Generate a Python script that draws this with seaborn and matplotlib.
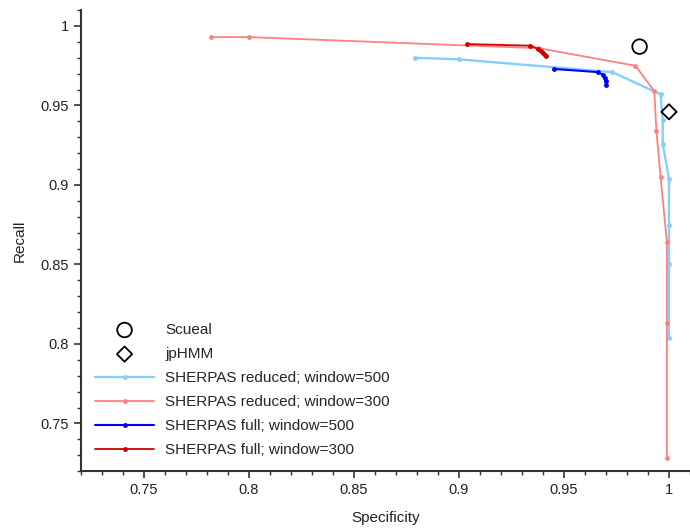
import numpy as np
import matplotlib
matplotlib.use("Agg")
import matplotlib.pyplot as plt
import seaborn as sns
from matplotlib.ticker import MultipleLocator

# data
scueal_spec = [0.986]
scueal_rec = [0.987]
jphmm_spec = [1.000]
jphmm_rec = [0.946]

red500_spec = [0.879, 0.900, 0.973, 0.996, 0.997, 0.997, 1.000, 1.000, 1.000, 1.000]
red500_rec = [0.980, 0.979, 0.971, 0.957, 0.941, 0.926, 0.904, 0.875, 0.850, 0.804]

red300_spec = [0.782, 0.800, 0.938, 0.984, 0.993, 0.994, 0.996, 0.999, 0.999, 0.999]
red300_rec = [0.993, 0.993, 0.986, 0.975, 0.959, 0.934, 0.905, 0.864, 0.813, 0.728]

full500_spec = [0.945, 0.966, 0.9684, 0.9693, 0.9698, 0.970]
full500_rec = [0.973, 0.971, 0.9694, 0.9673, 0.9652, 0.9631]

full300_spec = [0.904, 0.934, 0.9376, 0.939, 0.940, 0.9409, 0.9414]
full300_rec = [0.9886, 0.9876, 0.9857, 0.9845, 0.9832, 0.9819, 0.9813]

sns.set_style("ticks")
plt.rcParams["font.family"] = ["Liberation Sans", "DejaVu Sans"]

fig = plt.figure(figsize=(6.9, 5.3), dpi=100)
ax = fig.add_axes([0.1174, 0.111, 0.8826, 0.87])

sns.scatterplot(x=scueal_spec, y=scueal_rec, marker="o", s=110, facecolor="none",
                edgecolor="black", linewidth=1.3, label="Scueal", ax=ax, zorder=5)
sns.scatterplot(x=jphmm_spec, y=jphmm_rec, marker="D", s=60, facecolor="none",
                edgecolor="black", linewidth=1.3, label="jpHMM", ax=ax, zorder=5)

series = [
    (red500_spec, red500_rec, "#87cefa", 1.7, "SHERPAS reduced; window=500"),
    (red300_spec, red300_rec, "#ff8080", 1.3, "SHERPAS reduced; window=300"),
    (full500_spec, full500_rec, "#0000ff", 1.5, "SHERPAS full; window=500"),
    (full300_spec, full300_rec, "#cc0000", 1.3, "SHERPAS full; window=300"),
]
for xs, ys, col, lw, lab in series:
    sns.lineplot(x=xs, y=ys, sort=False, estimator=None, color=col, linewidth=lw,
                 marker="o", markersize=3.5, markeredgewidth=0, label=lab, ax=ax)

ax.set_xlim(0.72, 1.01)
ax.set_ylim(0.72, 1.01)
ax.xaxis.set_minor_locator(MultipleLocator(0.01))
ax.yaxis.set_minor_locator(MultipleLocator(0.01))
ax.set_xticks([0.75, 0.8, 0.85, 0.9, 0.95, 1.0])
ax.set_xticklabels(["0.75", "0.8", "0.85", "0.9", "0.95", "1"])
ax.set_yticks([0.75, 0.8, 0.85, 0.9, 0.95, 1.0])
ax.set_yticklabels(["0.75", "0.8", "0.85", "0.9", "0.95", "1"])

sns.despine(ax=ax)
for sp in ["left", "bottom"]:
    ax.spines[sp].set_color("#333333")
    ax.spines[sp].set_linewidth(1.5)
ax.tick_params(which="major", direction="out", length=5, width=1.2, color="#333333",
               labelsize=10.5, labelcolor="#222222")
ax.tick_params(which="minor", direction="out", length=3, width=1.0, color="#333333")

ax.set_xlabel("Specificity", fontsize=11, color="#222222", labelpad=10)
ax.set_ylabel("Recall", fontsize=11, color="#222222", labelpad=10)

ax.legend(loc="lower left", frameon=False, fontsize=11, handlelength=3.9,
          handletextpad=0.7, labelspacing=0.66)

fig.savefig("out.png", dpi=100)
